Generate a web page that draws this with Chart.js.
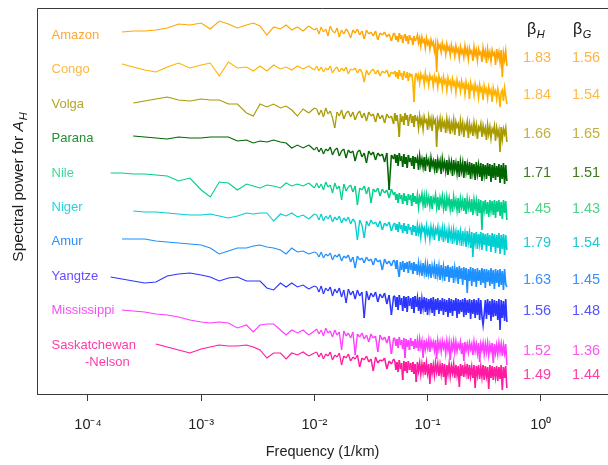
<!DOCTYPE html>
<html>
<head>
<meta charset="utf-8">
<script src="https://cdn.jsdelivr.net/npm/chart.js@4.4.1/dist/chart.umd.min.js"></script>
<style>
  html, body { margin: 0; padding: 0; background: #ffffff; overflow: hidden; }
  canvas { display: block; }
</style>
</head>
<body>
<canvas id="spectra" width="608" height="465"></canvas>
<script>
// ---- data ---------------------------------------------------------------
const rivers = ['Amazon', 'Congo', 'Volga', 'Parana', 'Nile', 'Niger', 'Amur',
                'Yangtze', 'Mississippi', 'Saskatchewan-Nelson'];
const betaH = [1.83, 1.84, 1.66, 1.71, 1.45, 1.79, 1.63, 1.56, 1.52, 1.49];
const betaG = [1.56, 1.54, 1.65, 1.51, 1.43, 1.54, 1.45, 1.48, 1.36, 1.44];

const tickValues = [1e-4, 1e-3, 1e-2, 1e-1, 1];
const tickLabels = ['10\u207B\u2074', '10\u207B\u00B3', '10\u207B\u00B2', '10\u207B\u00B9', '10\u2070'];

// frequency bins, log10(1/km)
const logFreq = [
  -3.80,-3.70,-3.60,-3.50,-3.40,-3.30,-3.20,-3.10,-3.00,-2.92,-2.84,-2.76,-2.68,-2.60,
  -2.54,-2.48,-2.42,-2.36,-2.30,-2.25,-2.20,-2.15,-2.10,-2.05,-2.00,
  -1.98,-1.96,-1.94,-1.92,-1.90,-1.88,-1.86,-1.84,-1.82,-1.80,-1.78,-1.76,-1.74,-1.72,-1.70,
  -1.68,-1.66,-1.64,-1.62,-1.60,-1.58,-1.56,-1.54,-1.52,-1.50,-1.48,-1.46,-1.44,-1.42,-1.40,
  -1.38,-1.36,-1.34,-1.32,-1.30,
  -1.29,-1.28,-1.27,-1.26,-1.25,-1.24,-1.23,-1.22,-1.21,-1.20,-1.19,-1.18,-1.17,-1.16,-1.15,
  -1.14,-1.13,-1.12,-1.11,-1.10,-1.09,-1.08,-1.07,-1.06,-1.05,-1.04,-1.03,-1.02,-1.01,-1.00,
  -0.99,-0.98,-0.97,-0.96,-0.95,-0.94,-0.93,-0.92,-0.91,-0.90,-0.89,-0.88,-0.87,-0.86,-0.85,
  -0.84,-0.83,-0.82,-0.81,-0.80,-0.79,-0.78,-0.77,-0.76,-0.75,-0.74,-0.73,-0.72,-0.71,-0.70,
  -0.69,-0.68,-0.67,-0.66,-0.65,-0.64,-0.63,-0.62,-0.61,-0.60,-0.59,-0.58,-0.57,-0.56,-0.55,
  -0.54,-0.53,-0.52,-0.51,-0.50,-0.49,-0.48,-0.47,-0.46,-0.45,-0.44,-0.43,-0.42,-0.41,-0.40,
  -0.39,-0.38,-0.37,-0.36,-0.35,-0.34,-0.33,-0.32,-0.31,-0.30];

// index of the lowest frequency bin of each river (longer rivers reach lower)
const firstBin = [1, 1, 2, 2, 0, 2, 1, 0, 1, 4];
// vertical stacking factor of each spectrum, dB
const stackDb = [-24, -56, -95, -128, -165, -203, -231, -269, -302, -335];

// spectral power relative to the first bin, dB
const amazon = [0,1,1,2,4,8,7,9,3,11,8,4,7,9,6,-3,5,3,7,2,5,1,6,2,
  4,-2,5,0,3,-4,6,1,-1,4,-5,2,-2,3,0,-6,2,-1,3,-3,1,-7,2,-2,0,-4,1,-8,-1,-3,0,-5,-2,-9,-1,
  -2,-8,-4,-10,-1,-7,-3,-11,-5,-2, -9,-4,-12,-3,-8,-6,-13,-4,-9,-7,
  -3,-11,-6,-14,-5,-10,-8,-16,-6,-12, -9,-17,-8,-13,-10,-19,-12,-40,-11,-16,
  -13,-20,-11,-17,-14,-22,-12,-18,-15,-23, -13,-19,-16,-24,-14,-20,-17,-26,-15,-21,
  -18,-25,-14,-22,-17,-27,-16,-21,-19,-29, -15,-23,-18,-28,-17,-22,-20,-30,-16,-24,
  -19,-31,-17,-25,-20,-29,-18,-23,-21,-33, -17,-26,-20,-30,-18,-45,-21,-28,-19,-34];
const congo = [0,-3,-6,-8,-3,1,-4,-1,1,-12,2,-4,-3,-7,-2,-7,-1,-5,-3,-6,-2,-5,-2,-6,
  -2,-7,-3,-8,-4,-6,-2,-9,-5,-3,-8,-4,-7,-3,-10,-5,-6,-4,-9,-5,-8,-18,-6,-11,-7,-5,-10,-6,-12,-7,-9,-6,-13,-8,-10,
  -7,-13,-8,-15,-6,-12,-9,-16,-7,-11, -14,-8,-17,-9,-13,-10,-18,-38,-12,-9,
  -15,-11,-19,-10,-14,-12,-20,-9,-16,-13, -21,-11,-15,-13,-22,-12,-17,-14,-23,-12,
  -18,-15,-24,-13,-19,-16,-26,-14,-20,-17, -25,-15,-21,-18,-28,-16,-22,-19,-27,-17,
  -23,-20,-30,-18,-24,-21,-35,-19,-25,-22, -31,-20,-26,-23,-33,-21,-27,-24,-36,-22,
  -28,-25,-34,-23,-29,-26,-38,-24,-30,-27, -35,-25,-31,-43,-28,-26,-37,-24,-32,-40];
const volga = [0,2,4,6,3,2,4,3,3,-1,-1,-10,-13,-1,-4,-1,-5,-3,-7,-13,-6,-10,-5,
  -6,-12,-7,-14,-5,-11,-8,-15,-25,-9,-13,-7,-16,-10,-8,-14,-9,-17,-11,-8,-15,-10,-18,-9,-13,-11,-19,-10,-16,-12,-20,-11,-15,-13,-21,
  -10,-18,-12,-21,-34,-11,-19,-13,-22,-10, -17,-12,-23,-14,-11,-20,-13,-24,-12,-18,
  -15,-25,-13,-21,-16,-26,-14,-19,-17,-27, -14,-22,-16,-28,-15,-20,-17,-44,-18,-24,
  -16,-29,-17,-23,-19,-30,-16,-25,-18,-31, -20,-26,-17,-32,-19,-24,-21,-33,-18,-27,
  -20,-34,-22,-26,-19,-35,-21,-28,-23,-33, -20,-29,-22,-36,-24,-27,-21,-34,-23,-30,
  -25,-37,-22,-31,-24,-35,-26,-29,-23,-38, -25,-32,-27,-49,-24,-36,-26,-31,-25,-39];
const parana = [0,-1,-2,-3,-1,-2,-2,-1,-1,-1,-5,-4,-7,-5,-6,-4,-6,-7,-12,-9,-12,-9,-14,
  -11,-16,-12,-18,-13,-15,-11,-19,-14,-12,-20,-15,-13,-22,-14,-17,-15,-25,-16,-14,-21,-17,-27,-15,-19,-16,-24,-17,-20,-18,-26,-17,-54,-19,-23,
  -18,-27,-19,-30,-17,-25,-20,-31,-18,-28, -21,-32,-19,-26,-22,-30,-20,-33,-21,-27,
  -22,-34,-20,-29,-23,-31,-21,-35,-22,-28, -24,-36,-22,-30,-25,-33,-23,-37,-24,-31,
  -25,-38,-23,-32,-26,-35,-24,-39,-25,-33, -26,-40,-24,-34,-27,-37,-25,-41,-26,-35,
  -27,-42,-25,-36,-28,-39,-26,-43,-27,-37, -28,-44,-26,-38,-29,-41,-27,-45,-28,-39,
  -29,-43,-27,-40,-28,-46,-29,-42,-27,-44, -30,-41,-28,-47,-29,-43,-27,-48,-29,-45];
const nile = [0,0,-1,-1,-2,-3,-8,-5,-17,-24,-9,-10,-17,-11,-13,-15,-12,-13,-15,-10,-13,-11,-13,-10,-15,
  -10,-15,-11,-17,-9,-14,-12,-20,-10,-16,-13,-27,-11,-18,-14,-12,-19,-13,-32,-15,-17,-13,-21,-14,-30,-16,-19,-15,-23,-16,-20,-17,-25,-16,-22,
  -19,-27,-21,-30,-20,-26,-22,-31,-20,-28, -23,-32,-21,-27,-22,-33,-20,-29,-23,-31,
  -22,-34,-24,-28,-21,-32,-23,-35,-22,-30, -24,-33,-23,-36,-25,-29,-22,-34,-24,-37,
  -25,-31,-23,-35,-26,-38,-24,-32,-25,-36, -26,-39,-24,-33,-27,-37,-25,-40,-26,-34,
  -27,-38,-25,-41,-26,-35,-28,-39,-26,-42, -27,-36,-28,-43,-26,-40,-27,-57,-28,-37,
  -27,-41,-29,-44,-27,-38,-28,-42,-27,-45, -28,-39,-27,-43,-29,-46,-27,-40,-28,-47];
const niger = [0,-1,-1,-2,-3,-4,-4,-3,-5,-7,-5,-2,-3,-2,-2,-10,-3,-5,-2,-6,-4,-8,-3,
  -4,-9,-3,-10,-5,-8,-4,-11,-6,-9,-5,-12,-7,-10,-6,-13,-8,-11,-29,-9,-14,-27,-10,-15,-9,-13,-11,-16,-10,-19,-12,-15,-11,-20,-13,
  -12,-19,-13,-21,-11,-18,-14,-22,-12,-20, -15,-23,-13,-19,-16,-24,-14,-21,-15,-25,
  -14,-22,-16,-26,-15,-20,-17,-27,-15,-23, -18,-28,-16,-24,-17,-29,-18,-22,-16,-30,
  -19,-25,-17,-31,-18,-26,-20,-32,-18,-27, -20,-33,-19,-28,-21,-34,-19,-29,-21,-35,
  -20,-30,-22,-36,-20,-31,-22,-37,-21,-46, -22,-32,-21,-38,-23,-33,-21,-39,-22,-34,
  -23,-40,-22,-35,-24,-41,-22,-36,-23,-42, -24,-37,-22,-43,-24,-38,-23,-44,-24,-39];
const amur = [0,0,0,-2,-3,-4,-5,-6,-9,-15,-12,-9,-9,-7,-6,-8,-9,-11,-15,-9,-13,-12,-15,-13,
  -14,-18,-13,-19,-15,-17,-14,-21,-16,-18,-15,-22,-17,-19,-16,-23,-18,-29,-17,-21,-19,-24,-18,-22,-20,-26,-19,-23,-21,-31,-20,-25,-22,-27,-21,
  -22,-30,-21,-32,-38,-23,-31,-22,-33,-24, -30,-23,-34,-22,-31,-24,-35,-23,-32,-25,
  -36,-24,-33,-26,-37,-24,-34,-25,-38,-26, -35,-25,-39,-27,-34,-26,-40,-25,-36,-27,
  -41,-26,-37,-28,-42,-27,-38,-26,-43,-28, -39,-27,-44,-29,-38,-28,-45,-27,-40,-29,
  -46,-28,-41,-29,-54,-30,-42,-28,-47,-29, -43,-30,-48,-29,-42,-31,-46,-29,-44,-30,
  -49,-30,-43,-31,-47,-29,-45,-31,-50,-30, -44,-31,-48,-30,-46,-32,-51,-30,-45,-48];
const yangtze = [0,-2,-4,-6,-5,1,3,4,2,0,-4,-1,0,-4,-4,-4,-11,-13,-6,-10,-6,-10,-8,-12,-9,
  -10,-15,-9,-17,-11,-14,-10,-19,-12,-16,-11,-20,-13,-26,-12,-18,-14,-22,-13,-19,-15,-41,-14,-23,-16,-20,-15,-25,-17,-21,-16,-27,-18,-38,-19,
  -19,-30,-20,-33,-18,-28,-21,-34,-19,-31, -20,-35,-19,-29,-21,-32,-20,-36,-19,-30,
  -21,-34,-20,-37,-22,-31,-20,-35,-21,-38, -22,-32,-21,-36,-20,-39,-22,-33,-21,-37,
  -23,-34,-21,-38,-22,-35,-23,-40,-21,-36, -22,-39,-23,-34,-21,-41,-22,-37,-23,-35,
  -22,-40,-21,-38,-23,-36,-22,-42,-23,-37, -22,-41,-23,-38,-21,-43,-23,-39,-48,-37,
  -23,-42,-22,-38,-24,-44,-22,-40,-23,-39, -24,-43,-22,-53,-23,-41,-24,-44,-22,-45];
const mississippi = [0,-1,-2,-4,-5,-7,-10,-12,-13,-12,-13,-18,-15,-22,-15,-14,-14,-20,-25,-20,-23,-20,-25,-21,
  -19,-24,-20,-26,-18,-23,-21,-27,-20,-25,-22,-40,-21,-26,-23,-28,-22,-45,-24,-27,-23,-29,-25,-32,-24,-28,-26,-42,-25,-30,-27,-33,-26,-44,-28,
  -28,-36,-29,-38,-27,-35,-30,-39,-28,-48, -29,-37,-30,-40,-28,-36,-31,-39,-29,-38,
  -30,-41,-29,-37,-31,-48,-30,-39,-32,-38, -30,-42,-31,-37,-32,-40,-30,-49,-31,-39,
  -32,-41,-31,-38,-33,-43,-31,-40,-32,-50, -33,-39,-31,-42,-32,-41,-34,-38,-32,-44,
  -33,-51,-32,-40,-34,-42,-33,-39,-34,-45, -32,-41,-34,-43,-33,-52,-34,-40,-33,-44,
  -34,-42,-33,-45,-35,-41,-33,-53,-34,-43, -35,-44,-33,-42,-34,-46,-35,-43,-34,-55];
const saskatchewan = [-1,-4,-7,-10,-6,-4,-2,-3,-3,-2,-4,-7,-15,-10,-10,-16,-10,-12,-9,-13,-10,
  -9,-14,-10,-16,-11,-13,-9,-17,-12,-14,-10,-22,-13,-15,-11,-18,-14,-16,-12,-24,-15,-17,-13,-19,-16,-28,-14,-20,-17,-18,-15,-26,-18,-21,-16,
  -18,-27,-19,-29,-17,-26,-20,-37,-18,-28, -19,-30,-18,-27,-20,-29,-19,-31,-21,-39,
  -19,-28,-20,-31,-21,-29,-19,-32,-20,-30, -21,-41,-20,-30,-22,-32,-20,-29,-21,-33,
  -22,-31,-20,-34,-21,-42,-22,-31,-21,-33, -23,-30,-21,-35,-22,-32,-23,-44,-21,-33,
  -22,-34,-23,-31,-21,-36,-22,-33,-24,-35, -22,-45,-23,-32,-22,-36,-24,-34,-22,-37,
  -23,-33,-24,-46,-22,-35,-23,-37,-24,-34, -23,-38,-24,-36,-22,-47,-24,-35,-23,-45];

const spectra = [amazon, congo, volga, parana, nile, niger, amur, yangtze, mississippi, saskatchewan];

// ---- styles -------------------------------------------------------------
const lineColors  = ['#FFA500', '#FFB300', '#A89B00', '#006400', '#00D08A',
                     '#00CFD2', '#1E90FF', '#2B35FF', '#FF3CFF', '#FF1AA0'];
const nameColors  = ['#FFA82E', '#FFB940', '#B4A72A', '#1E9330', '#3AD99A',
                     '#22D6DA', '#2E8DFF', '#6A4BFF', '#F252F2', '#FF3CA8'];
const betaColors  = ['#FFB347', '#FFBB45', '#C3B03C', '#3E7A1C', '#4FD38A',
                     '#22C9D2', '#3D8EFF', '#5554FF', '#FF55F0', '#FF3DA2'];
const FONT = '"Liberation Sans", Arial, Helvetica, sans-serif';

// the periodogram bins crowd together at high frequency; the stroke thickens
// gradually there so the overlapping bins merge into a solid band
const strokeFor = (f) => {
  const t = Math.min(1, Math.max(0, (Math.log10(f) + 2.1) / 1.0));
  return 1.1 + 0.55 * t;
};

const datasets = spectra.map((vals, k) => ({
  label: rivers[k],
  data: vals.map((v, i) => ({ x: Math.pow(10, logFreq[firstBin[k] + i]), y: stackDb[k] + v })),
  borderColor: lineColors[k],
  borderWidth: 1.1,
  segment: { borderWidth: (c) => strokeFor(c.p0.parsed.x) },
  pointRadius: 0,
  tension: 0,
  fill: false
}));

// ---- annotations: frame, river names, exponents, axis title ---------------
const annotate = {
  id: 'annotate',
  afterDraw(chart) {
    const { ctx, chartArea: a, scales } = chart;
    ctx.save();

    // frame (left and top; bottom is the x axis line)
    ctx.strokeStyle = '#3a3a3a';
    ctx.lineWidth = 1;
    ctx.beginPath();
    ctx.moveTo(a.left + 0.5, a.bottom);
    ctx.lineTo(a.left + 0.5, a.top + 0.5);
    ctx.lineTo(a.right, a.top + 0.5);
    ctx.stroke();

    // river names
    ctx.textBaseline = 'middle';
    ctx.textAlign = 'left';
    ctx.font = '13px ' + FONT;
    rivers.forEach((name, k) => {
      const y = 35.5 + k * 34.4;
      ctx.fillStyle = nameColors[k];
      const parts = name.split(/(?=-)/);
      ctx.fillText(parts[0], 51.5, y);
      if (parts[1]) ctx.fillText(parts[1], 85, y + 17.5);
    });

    // spectral exponents next to the high-frequency end of each spectrum
    ctx.font = '14.5px ' + FONT;
    ctx.textAlign = 'center';
    spectra.forEach((vals, k) => {
      const tail = vals.slice(-20);
      const mean = tail.reduce((s, v) => s + v, 0) / tail.length;
      const y = scales.y.getPixelForValue(stackDb[k] + mean) + 1;
      ctx.fillStyle = betaColors[k];
      ctx.fillText(betaH[k].toFixed(2), 537, y);
      ctx.fillText(betaG[k].toFixed(2), 586, y);
    });

    // column heads: beta_H and beta_G
    const head = (x, sub) => {
      ctx.textAlign = 'left';
      ctx.textBaseline = 'alphabetic';
      ctx.fillStyle = '#111111';
      ctx.font = '16px ' + FONT;
      ctx.fillText('\u03B2', x, 34);
      const w = ctx.measureText('\u03B2').width;
      ctx.font = 'italic 11px ' + FONT;
      ctx.fillText(sub, x + w + 0.5, 37.5);
    };
    head(527, 'H');
    head(573, 'G');

    // y axis title with subscript
    ctx.translate(22.5, 187);
    ctx.rotate(-Math.PI / 2);
    ctx.textBaseline = 'alphabetic';
    ctx.textAlign = 'left';
    ctx.fillStyle = '#1a1a1a';
    const t1 = 'Spectral power for ';
    ctx.font = '15.5px ' + FONT;
    const w1 = ctx.measureText(t1).width;
    ctx.font = 'italic 15.5px ' + FONT;
    const w2 = ctx.measureText('A').width;
    ctx.font = 'italic 11px ' + FONT;
    const w3 = ctx.measureText('H').width;
    const x0 = -(w1 + w2 + w3 + 1) / 2;
    ctx.font = '15.5px ' + FONT;
    ctx.fillText(t1, x0, 0);
    ctx.font = 'italic 15.5px ' + FONT;
    ctx.fillText('A', x0 + w1, 0);
    ctx.font = 'italic 11px ' + FONT;
    ctx.fillText('H', x0 + w1 + w2 + 1, 4);

    ctx.restore();
  }
};

new Chart(document.getElementById('spectra'), {
  type: 'line',
  data: { datasets },
  plugins: [annotate],
  options: {
    responsive: false,
    animation: false,
    events: [],
    layout: { padding: { left: 37, top: 8, right: 0, bottom: 0 } },
    plugins: { legend: { display: false }, tooltip: { enabled: false } },
    scales: {
      x: {
        type: 'logarithmic',
        min: Math.pow(10, -4.4505),
        max: Math.pow(10, 0.5936),
        afterBuildTicks: (s) => { s.ticks = tickValues.map(v => ({ value: v })); },
        afterFit: (s) => { s.height = 71; },
        border: { display: true, color: '#3a3a3a', width: 1 },
        grid: { display: true, drawOnChartArea: false, drawTicks: true, tickLength: 7, color: '#3a3a3a' },
        ticks: {
          autoSkip: false,
          maxRotation: 0,
          padding: 15,
          color: '#222222',
          font: { family: FONT, size: 14.5 },
          callback: (v) => { const i = tickValues.indexOf(v); return i >= 0 ? tickLabels[i] : ''; }
        },
        title: {
          display: true,
          text: 'Frequency (1/km)',
          color: '#222222',
          font: { family: FONT, size: 14.5 },
          padding: { top: 4, bottom: 4 }
        }
      },
      y: {
        type: 'linear',
        display: false,
        min: -386,
        max: 0
      }
    }
  }
});
</script>
</body>
</html>
